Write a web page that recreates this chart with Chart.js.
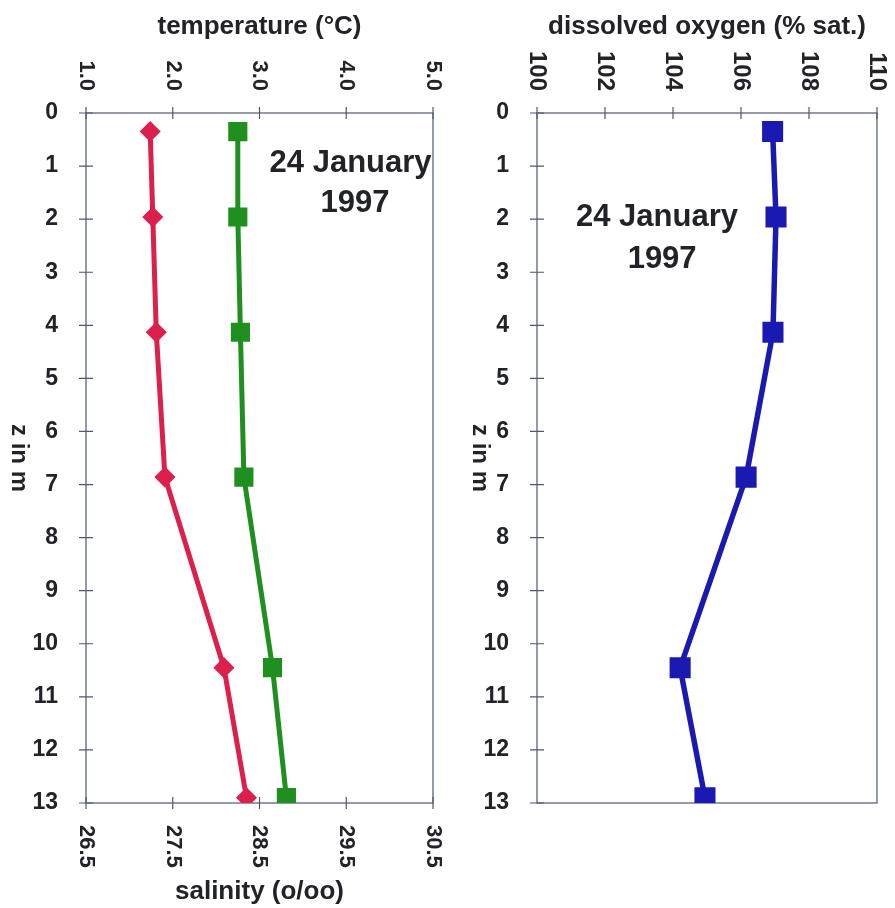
<!DOCTYPE html>
<html>
<head>
<meta charset="utf-8">
<script src="https://cdn.jsdelivr.net/npm/chart.js@4.4.1/dist/chart.umd.min.js"></script>
<style>
  html, body { margin: 0; padding: 0; background: #fff; }
  #wrap { position: relative; width: 895px; height: 908px; }
  #left { position: absolute; left: 0; top: 0; }
  #right { position: absolute; left: 460px; top: 0; }
</style>
</head>
<body>
<div id="wrap">
  <canvas id="left" width="460" height="908"></canvas>
  <canvas id="right" width="435" height="908"></canvas>
</div>
<script>
const depths = [0.35, 1.96, 4.13, 6.86, 10.45, 12.9]
const temperature = [1.74, 1.77, 1.81, 1.91, 2.59, 2.85]
const salinity = [28.25, 28.25, 28.28, 28.32, 28.65, 28.81]
const oxygen = [106.93, 107.03, 106.94, 106.15, 104.21, 104.94]

// marcas dos eixos
const depthTicks = [0, 1, 2, 3, 4, 5, 6, 7, 8, 9, 10, 11, 12, 13]
const tempTicks = [1, 2, 3, 4, 5]
const tempTickLabels = ['1.0', '2.0', '3.0', '4.0', '5.0']
const salTicks = [26.5, 27.5, 28.5, 29.5, 30.5]
const salTickLabels = ['26.5', '27.5', '28.5', '29.5', '30.5']
const oxyTicks = [100, 102, 104, 106, 108, 110]
const oxyTickLabels = ['100', '102', '104', '106', '108', '110']

const FONT = '"Liberation Sans", Arial, Helvetica, sans-serif'
const TEXT = '#212328'
const AXIS = '#4f5870'

Chart.defaults.font.family = FONT

const pts = (xs) => xs.map((x, i) => ({ x: x, y: depths[i] }))

// moldura, marcas cruzando o eixo, rótulos girados e anotações
function makeFrame(cfg) {
  return {
    id: 'frame',
    beforeDatasetsDraw(chart) {
      const { ctx, chartArea: a, scales } = chart
      ctx.save()
      ctx.strokeStyle = AXIS
      ctx.lineWidth = 1.2
      ctx.strokeRect(a.left, a.top, a.right - a.left, a.bottom - a.top)
      ctx.beginPath()
      for (const ax of cfg.xAxes) {
        const s = scales[ax.id]
        const yLine = ax.side === 'top' ? a.top : a.bottom
        ax.ticks.forEach(v => {
          const x = s.getPixelForValue(v)
          ctx.moveTo(x, yLine - 6)
          ctx.lineTo(x, yLine + 6)
        })
      }
      depthTicks.forEach(v => {
        const y = scales.y.getPixelForValue(v)
        ctx.moveTo(a.left - 7, y)
        ctx.lineTo(a.left + 7, y)
      })
      ctx.stroke()
      ctx.restore()
    },
    afterDraw(chart) {
      const { ctx, chartArea: a, scales } = chart
      ctx.save()
      ctx.fillStyle = TEXT
      ctx.textBaseline = 'middle'
      for (const ax of cfg.xAxes) {
        const s = scales[ax.id]
        ctx.font = 'bold ' + ax.size + 'px ' + FONT
        ax.ticks.forEach((v, i) => {
          ctx.save()
          ctx.translate(s.getPixelForValue(v), ax.side === 'top' ? a.top - 22 : a.bottom + 22)
          ctx.rotate(Math.PI / 2)
          ctx.textAlign = ax.side === 'top' ? 'right' : 'left'
          ctx.fillText(ax.labels[i], 0, 0)
          ctx.restore()
        })
      }
      // título do eixo z
      ctx.font = 'bold 24px ' + FONT
      ctx.save()
      ctx.translate(cfg.zTitleX, (a.top + a.bottom) / 2)
      ctx.rotate(Math.PI / 2)
      ctx.textAlign = 'center'
      ctx.fillText('z in m', 0, 0)
      ctx.restore()
      // data da campanha
      ctx.font = 'bold 31px ' + FONT
      ctx.textAlign = 'center'
      ctx.textBaseline = 'alphabetic'
      for (const n of cfg.notes) {
        ctx.fillText(n.text, scales[n.axis].getPixelForValue(n.x), scales.y.getPixelForValue(n.y))
      }
      ctx.restore()
    }
  }
}

const yScale = (width) => ({
  type: 'linear',
  position: 'left',
  reverse: true,
  min: 0,
  max: 13,
  afterBuildTicks: s => { s.ticks = depthTicks.map(v => ({ value: v })) },
  afterFit: s => { s.width = width },
  grid: { display: false },
  border: { display: false },
  ticks: {
    autoSkip: false,
    padding: 20,
    color: TEXT,
    font: { size: 23, weight: 'bold' }
  }
})

const xScale = (side, min, max, ticks, title, height, pad) => ({
  type: 'linear',
  position: side,
  min: min,
  max: max,
  afterBuildTicks: s => { s.ticks = ticks.map(v => ({ value: v })) },
  afterFit: s => { s.height = height },
  grid: { display: false },
  border: { display: false },
  ticks: { display: false },
  title: {
    display: true,
    text: title,
    color: TEXT,
    font: { size: 26, weight: 'bold' },
    padding: pad
  }
})

const common = {
  responsive: false,
  animation: false,
  events: [],
  plugins: { legend: { display: false }, tooltip: { enabled: false } }
}

// painel esquerdo: temperatura (vermelho) e salinidade (verde)
new Chart(document.getElementById('left'), {
  type: 'scatter',
  data: {
    datasets: [
      {
        label: 'temperature',
        data: pts(temperature),
        xAxisID: 'xT',
        yAxisID: 'y',
        showLine: true,
        borderColor: '#dc1f4b',
        backgroundColor: '#dc1f4b',
        borderWidth: 5,
        pointStyle: 'rectRot',
        pointRadius: 7,
        tension: 0
      },
      {
        label: 'salinity',
        data: pts(salinity),
        xAxisID: 'xS',
        yAxisID: 'y',
        showLine: true,
        borderColor: '#1f8f1f',
        backgroundColor: '#1f8f1f',
        borderWidth: 5,
        pointStyle: 'rect',
        pointRadius: 10,
        tension: 0
      }
    ]
  },
  options: {
    ...common,
    layout: { padding: { right: 27 } },
    scales: {
      xT: xScale('top', 1, 5, tempTicks, 'temperature (°C)', 113, { top: 11, bottom: 0 }),
      xS: xScale('bottom', 26.5, 30.5, salTicks, 'salinity (o/oo)', 105, { top: 0, bottom: 1 }),
      y: yScale(86)
    }
  },
  plugins: [makeFrame({
    xAxes: [
      { id: 'xT', side: 'top', ticks: tempTicks, labels: tempTickLabels, size: 22 },
      { id: 'xS', side: 'bottom', ticks: salTicks, labels: salTickLabels, size: 22 }
    ],
    zTitleX: 19,
    notes: [
      { text: '24 January', axis: 'xT', x: 4.05, y: 1.11 },
      { text: '1997', axis: 'xT', x: 4.1, y: 1.86 }
    ]
  })]
})

// painel direito: oxigênio dissolvido
new Chart(document.getElementById('right'), {
  type: 'scatter',
  data: {
    datasets: [{
      label: 'dissolved oxygen',
      data: pts(oxygen),
      xAxisID: 'xO',
      yAxisID: 'y',
      showLine: true,
      borderColor: '#1a1ab2',
      backgroundColor: '#1a1ab2',
      borderWidth: 5.5,
      pointStyle: 'rect',
      pointRadius: 11,
      tension: 0
    }]
  },
  options: {
    ...common,
    layout: { padding: { right: 18, bottom: 105 } },
    scales: {
      xO: xScale('top', 100, 110, oxyTicks, 'dissolved oxygen (% sat.)', 113, { top: 11, bottom: 0 }),
      y: yScale(77)
    }
  },
  plugins: [makeFrame({
    xAxes: [
      { id: 'xO', side: 'top', ticks: oxyTicks, labels: oxyTickLabels, size: 24 }
    ],
    zTitleX: 20,
    notes: [
      { text: '24 January', axis: 'xO', x: 103.53, y: 2.13 },
      { text: '1997', axis: 'xO', x: 103.68, y: 2.92 }
    ]
  })]
})
</script>
</body>
</html>
